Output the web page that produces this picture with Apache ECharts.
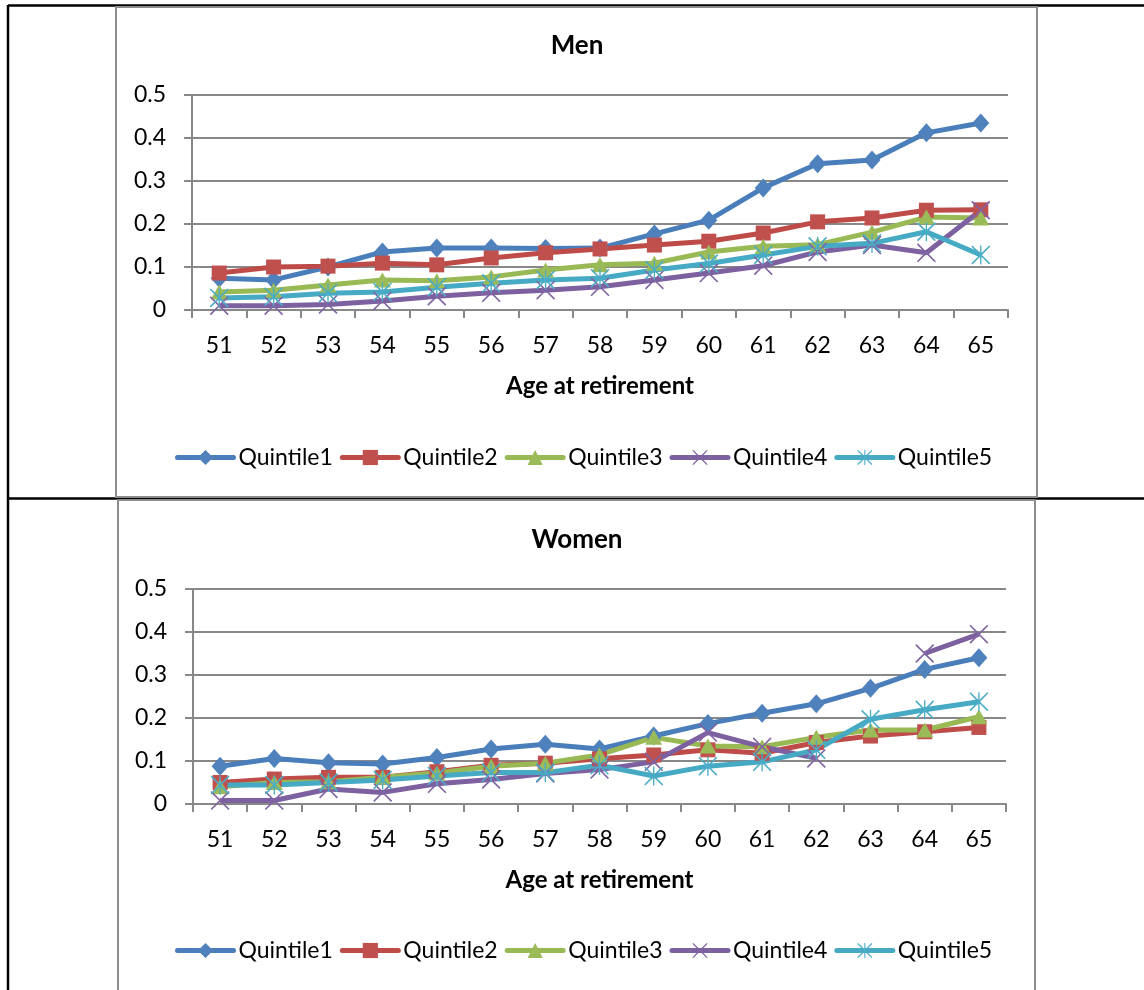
<!DOCTYPE html>
<html>
<head>
<meta charset="utf-8">
<script src="https://cdn.jsdelivr.net/npm/echarts@6/dist/echarts.min.js"></script>
<style>
  html, body { margin: 0; padding: 0; background: #fff; }
  #chart { width: 1144px; height: 990px; }
</style>
</head>
<body>
<div id="chart"></div>
<script>
// Ages at retirement (x categories)
const ages = ['51','52','53','54','55','56','57','58','59','60','61','62','63','64','65'];
const seriesNames = ['Quintile1','Quintile2','Quintile3','Quintile4','Quintile5'];

// Men, by wealth quintile
const menQ1 = [0.074, 0.070, 0.100, 0.135, 0.144, 0.144, 0.143, 0.144, 0.177, 0.209, 0.284, 0.340, 0.349, 0.412, 0.435];
const menQ2 = [0.086, 0.100, 0.102, 0.109, 0.105, 0.121, 0.133, 0.142, 0.151, 0.160, 0.179, 0.205, 0.214, 0.232, 0.233];
const menQ3 = [0.042, 0.046, 0.058, 0.070, 0.068, 0.077, 0.093, 0.105, 0.109, 0.135, 0.148, 0.152, 0.181, 0.216, 0.214];
const menQ4 = [0.010, 0.010, 0.013, 0.021, 0.032, 0.040, 0.046, 0.054, 0.070, 0.086, 0.103, 0.135, 0.151, 0.133, 0.232];
const menQ5 = [0.028, 0.031, 0.039, 0.042, 0.053, 0.062, 0.070, 0.074, 0.093, 0.108, 0.128, 0.148, 0.155, 0.182, 0.128];

// Women, by wealth quintile (Quintile4 has no value at 63)
const womenQ1 = [0.088, 0.106, 0.096, 0.093, 0.108, 0.128, 0.139, 0.128, 0.158, 0.187, 0.211, 0.233, 0.269, 0.313, 0.340];
const womenQ2 = [0.050, 0.058, 0.062, 0.062, 0.075, 0.090, 0.095, 0.105, 0.114, 0.126, 0.118, 0.143, 0.158, 0.168, 0.178];
const womenQ3 = [0.040, 0.050, 0.052, 0.062, 0.072, 0.088, 0.095, 0.114, 0.155, 0.135, 0.133, 0.155, 0.172, 0.172, 0.203];
const womenQ4 = [0.008, 0.008, 0.035, 0.027, 0.047, 0.057, 0.071, 0.080, 0.098, 0.166, 0.133, 0.106, null, 0.350, 0.395];
const womenQ5 = [0.044, 0.044, 0.050, 0.056, 0.065, 0.073, 0.073, 0.090, 0.065, 0.088, 0.098, 0.126, 0.197, 0.219, 0.238];

// Y axis tick labels
const yTicks = ['0', '0.1', '0.2', '0.3', '0.4', '0.5'];

const FONT = 'Lato';
const FS = 23;
const lineColors = ['#4A7EBB', '#BE4B48', '#98B954', '#7D60A0', '#46AAC5'];
const markColors = ['#4F81BD', '#C0504D', '#9BBB59', '#8064A2', '#4BACC6'];
const xMark = 'path://M0,1.2 L1.2,0 L10,8.8 L18.8,0 L20,1.2 L11.2,10 L20,18.8 L18.8,20 L10,11.2 L1.2,20 L0,18.8 L8.8,10 Z';
const starMark = 'path://M0,1.2 L1.2,0 L10,8.8 L18.8,0 L20,1.2 L11.2,10 L20,18.8 L18.8,20 L10,11.2 L1.2,20 L0,18.8 L8.8,10 Z M9.3,0 L10.7,0 L10.7,20 L9.3,20 Z';
const symbols = ['diamond', 'rect', 'triangle', xMark, starMark];
const symbolSizes = [[17, 19], 15, [17, 15], 19, 19];

function makeSeries(dataSets, gridIdx) {
  return dataSets.map((d, i) => ({
    name: seriesNames[i],
    type: 'line',
    xAxisIndex: gridIdx,
    yAxisIndex: gridIdx,
    data: d,
    symbol: symbols[i],
    symbolSize: symbolSizes[i],
    showAllSymbol: true,
    connectNulls: false,
    lineStyle: { color: lineColors[i], width: 5 },
    itemStyle: { color: markColors[i] },
    emphasis: { disabled: true },
    animation: false
  }));
}

const gridColor = '#888888';
function makeX(gridIdx) {
  return {
    type: 'category', gridIndex: gridIdx, data: ages, boundaryGap: true,
    name: 'Age at retirement', nameLocation: 'middle', nameGap: 64,
    nameTextStyle: { fontFamily: FONT, fontWeight: 'bold', fontSize: 24, color: '#000' },
    axisLine: { lineStyle: { color: gridColor, width: 2 } },
    axisTick: { show: true, inside: false, length: 8, alignWithLabel: false, lineStyle: { color: gridColor, width: 2 } },
    axisLabel: { fontFamily: FONT, fontSize: FS, color: '#000', margin: 24 },
    splitLine: { show: false }
  };
}
function makeY(gridIdx) {
  return {
    type: 'value', gridIndex: gridIdx, min: 0, max: 0.5, interval: 0.1,
    axisLine: { show: true, lineStyle: { color: gridColor, width: 2 } },
    axisTick: { show: true, length: 8, lineStyle: { color: gridColor, width: 2 } },
    axisLabel: {
      fontFamily: FONT, fontSize: FS, color: '#000', margin: 26,
      formatter: (v) => yTicks[Math.round(v * 10)]
    },
    splitLine: { show: true, lineStyle: { color: gridColor, width: 2 } }
  };
}

const legendBase = {
  data: seriesNames,
  left: 170,
  itemWidth: 56,
  itemHeight: 19,
  itemGap: 7,
  lineStyle: { width: 5, cap: 'round' },
  textStyle: { fontFamily: FONT, fontSize: FS, color: '#000', padding: [0, 0, 0, 0] },
  selectedMode: false
};

const chart = echarts.init(document.getElementById('chart'), null, { renderer: 'canvas' });
chart.setOption({
  animation: false,
  backgroundColor: '#fff',
  graphic: [
    // Table rules
    { type: 'line', z: -10, shape: { x1: 8, y1: 5.5, x2: 1144, y2: 5.5 }, style: { stroke: '#000', lineWidth: 2.5 } },
    { type: 'line', z: -10, shape: { x1: 8, y1: 5, x2: 8, y2: 990 }, style: { stroke: '#000', lineWidth: 2.5 } },
    { type: 'line', z: -10, shape: { x1: 8, y1: 498.5, x2: 1144, y2: 498.5 }, style: { stroke: '#000', lineWidth: 2.5 } },
    // Chart frames
    { type: 'rect', z: -5, shape: { x: 116, y: 7, width: 921, height: 490 }, style: { fill: '#fff', stroke: '#8c8c8c', lineWidth: 2 } },
    { type: 'rect', z: -5, shape: { x: 118, y: 500, width: 917, height: 520 }, style: { fill: '#fff', stroke: '#8c8c8c', lineWidth: 2 } },
    // Chart titles
    { type: 'text', z: 10, style: { text: 'Men', x: 577, y: 46, align: 'center', verticalAlign: 'middle', font: 'bold 26px ' + FONT, fill: '#000' } },
    { type: 'text', z: 10, style: { text: 'Women', x: 577, y: 540, align: 'center', verticalAlign: 'middle', font: 'bold 26px ' + FONT, fill: '#000' } }
  ],
  grid: [
    { left: 192, right: 136, top: 95, bottom: 680 },
    { left: 193, right: 138, top: 589, bottom: 186 }
  ],
  xAxis: [makeX(0), makeX(1)],
  yAxis: [makeY(0), makeY(1)],
  legend: [
    Object.assign({}, legendBase, { top: 441 }),
    Object.assign({}, legendBase, { top: 934 })
  ],
  series: makeSeries([menQ1, menQ2, menQ3, menQ4, menQ5], 0)
    .concat(makeSeries([womenQ1, womenQ2, womenQ3, womenQ4, womenQ5], 1))
});
</script>
</body>
</html>
